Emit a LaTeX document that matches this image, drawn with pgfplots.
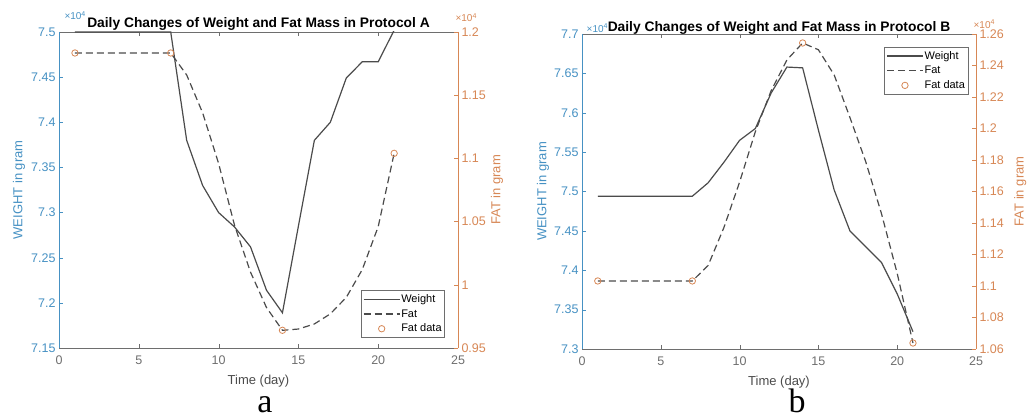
\documentclass[border=0pt]{standalone}
\usepackage{pgfplots}
\pgfplotsset{compat=1.18}
\usepackage{fontspec}
\setmainfont{Liberation Sans}
\newfontfamily\serifletter{Liberation Serif}

\definecolor{wblue}{RGB}{70,145,195}
\definecolor{forange}{RGB}{215,135,85}
\definecolor{lgray}{RGB}{75,75,75}
\definecolor{agray}{RGB}{110,110,110}

\pgfplotsset{
  twin/.style={
    scale only axis, clip mode=individual,
    xmin=0, xmax=25, xtick={0,5,10,15,20,25},
    tick align=inside, major tick length=4pt,
    /pgf/number format/assume math mode=true,
    scaled y ticks=false,
    tick label style={font=\fontsize{12.5}{14}\selectfont},
    every axis plot/.append style={line width=1.2pt},
    every axis x label/.style={at={(axis description cs:0.5,-0.104)}, anchor=center, font=\fontsize{13}{15}\selectfont},
    legend image code/.code={\draw[mark repeat=2,mark phase=2,##1] plot coordinates {(0pt,0pt) (18pt,0pt) (36pt,0pt)};},
  },
  wside/.style={
    axis x line*=box, axis y line*=left,
    x axis line style={agray}, xtick style={agray}, xticklabel style={text=agray, yshift=-4pt},
    y axis line style={wblue}, ytick style={wblue}, yticklabel style={text=wblue},
    ylabel={WEIGHT in gram}, ylabel style={text=wblue, font=\fontsize{13}{15}\selectfont},
    xlabel={Time (day)}, xlabel style={text=lgray},
  },
  fside/.style={
    axis x line=none, axis y line*=right,
    y axis line style={forange}, ytick style={forange}, yticklabel style={text=forange},
    ylabel={FAT in gram}, ylabel style={text=forange, font=\fontsize{13}{15}\selectfont},
    legend cell align=left,
    legend style={draw=agray, fill=white, font=\fontsize{11}{13}\selectfont, inner xsep=2pt, inner ysep=3pt, row sep=3pt,
      nodes={inner ysep=1.2pt, inner xsep=1pt}},
  },
}

\begin{document}
\begin{tikzpicture}
\useasboundingbox (0,0) rectangle (1027pt,419pt);

% ---------- panel a ----------
\begin{axis}[twin, wside, at={(59pt,71pt)}, anchor=south west, width=399pt, height=316pt,
    ymin=7.15, ymax=7.5, ytick={7.15,7.2,7.25,7.3,7.35,7.4,7.45,7.5},
    ylabel style={at={(axis description cs:-0.100,0.5)}, anchor=center},
    title={Daily Changes of Weight and Fat Mass in Protocol A},
    every axis title/.style={at={(axis description cs:0.5,1.013)}, anchor=base, font=\bfseries\fontsize{13.8}{15}\selectfont},
]
\addplot[lgray, no marks] coordinates {
 (1,7.5)(2,7.5)(3,7.5)(4,7.5)(5,7.5)(6,7.5)(7,7.5)(8,7.38)(9,7.33)(10,7.30)(11,7.284)
 (12,7.262)(13,7.214)(14,7.189)(15,7.285)(16,7.38)(17,7.40)(18,7.449)(19,7.467)(20,7.467)(21,7.502)};
\node[text=wblue, anchor=base west, font=\fontsize{10}{12}\selectfont] at (rel axis cs:0.005,1.038) {×10\textsuperscript{4}};
\end{axis}
\begin{axis}[twin, fside, at={(59pt,71pt)}, anchor=south west, width=399pt, height=316pt,
    ymin=0.95, ymax=1.2, ytick={0.95,1,1.05,1.1,1.15,1.2},
    ylabel style={at={(axis description cs:1.098,0.5)}, anchor=center},
    legend style={at={(axis description cs:0.967,0.032)}, anchor=south east},
]
\addlegendimage{lgray, line width=1.2pt}
\addlegendentry{Weight}
\addplot[lgray, dashed, dash pattern=on 7pt off 4pt, no marks] coordinates {
 (1,1.1834)(2,1.1834)(3,1.1834)(4,1.1834)(5,1.1834)(6,1.1834)(7,1.1834)(8,1.166)(9,1.136)
 (10,1.096)(11,1.047)(12,1.010)(13,0.982)(14,0.964)(15,0.965)(16,0.969)(17,0.977)(18,0.990)
 (19,1.012)(20,1.046)(21,1.104)};
\addlegendentry{Fat}
\addplot[forange, only marks, mark=o, mark size=3.2pt, mark options={line width=0.8pt}] coordinates {
 (1,1.1834)(7,1.1834)(14,0.964)(21,1.104)};
\addlegendentry{Fat data}
\node[text=forange, anchor=base west, font=\fontsize{10}{12}\selectfont] at (rel axis cs:0.985,1.032) {×10\textsuperscript{4}};
\end{axis}

% ---------- panel b ----------
\begin{axis}[twin, wside, at={(582pt,70pt)}, anchor=south west, width=394pt, height=315pt,
    ymin=7.3, ymax=7.7, ytick={7.3,7.35,7.4,7.45,7.5,7.55,7.6,7.65,7.7},
    ylabel style={at={(axis description cs:-0.099,0.5)}, anchor=center},
    title={Daily Changes of Weight and Fat Mass in Protocol B},
    every axis title/.style={at={(axis description cs:0.5,1.008)}, anchor=base, font=\bfseries\fontsize{13.8}{15}\selectfont},
]
\addplot[lgray, no marks] coordinates {
 (1,7.494)(2,7.494)(3,7.494)(4,7.494)(5,7.494)(6,7.494)(7,7.494)(8,7.511)(9,7.537)(10,7.565)
 (11,7.58)(12,7.625)(13,7.658)(14,7.657)(15,7.578)(16,7.502)(17,7.45)(18,7.43)(19,7.41)(20,7.37)(21,7.322)};
\node[text=wblue, anchor=base west, font=\fontsize{10}{12}\selectfont] at (rel axis cs:0.003,1.005) {×10\textsuperscript{4}};
\end{axis}
\begin{axis}[twin, fside, at={(582pt,70pt)}, anchor=south west, width=394pt, height=315pt,
    ymin=1.06, ymax=1.26, ytick={1.06,1.08,1.1,1.12,1.14,1.16,1.18,1.2,1.22,1.24,1.26},
    ylabel style={at={(axis description cs:1.112,0.5)}, anchor=center},
    legend style={at={(axis description cs:0.98,0.959)}, anchor=north east},
]
\addlegendimage{lgray, line width=1.2pt}
\addlegendentry{Weight}
\addplot[lgray, dashed, dash pattern=on 7pt off 4pt, no marks] coordinates {
 (1,1.1032)(2,1.1032)(3,1.1032)(4,1.1032)(5,1.1032)(6,1.1032)(7,1.1032)(8,1.113)(9,1.137)
 (10,1.166)(11,1.198)(12,1.224)(13,1.2435)(14,1.2543)(15,1.250)(16,1.234)(17,1.207)(18,1.179)
 (19,1.146)(20,1.108)(21,1.0638)};
\addlegendentry{Fat}
\addplot[forange, only marks, mark=o, mark size=3.2pt, mark options={line width=0.8pt}] coordinates {
 (1,1.1032)(7,1.1032)(14,1.2543)(21,1.0638)};
\addlegendentry{Fat data}
\node[text=forange, anchor=base west, font=\fontsize{10}{12}\selectfont] at (rel axis cs:0.985,1.018) {×10\textsuperscript{4}};
\end{axis}

\node[font=\serifletter\fontsize{34}{35}\selectfont, anchor=base, inner sep=0pt] at (265pt,6pt) {a};
\node[font=\serifletter\fontsize{34}{35}\selectfont, anchor=base, inner sep=0pt] at (797pt,6pt) {b};
\end{tikzpicture}
\end{document}
